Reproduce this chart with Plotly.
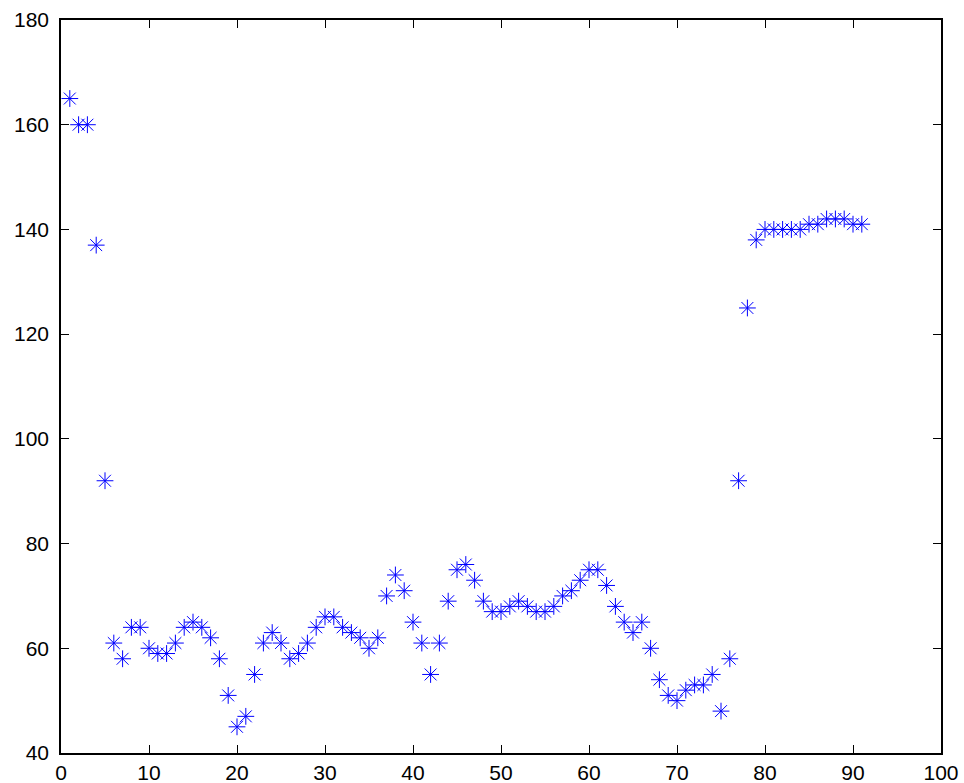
import plotly.graph_objects as go

x_values = list(range(1, 92))
y_values = [165, 160, 160, 137, 92, 61, 58, 64, 64, 60,
            59, 59, 61, 64, 65, 64, 62, 58, 51, 45,
            47, 55, 61, 63, 61, 58, 59, 61, 64, 66,
            66, 64, 63, 62, 60, 62, 70, 74, 71, 65,
            61, 55, 61, 69, 75, 76, 73, 69, 67, 67,
            68, 69, 68, 67, 67, 68, 70, 71, 73, 75,
            75, 72, 68, 65, 63, 65, 60, 54, 51, 50,
            52, 53, 53, 55, 48, 58, 92, 125, 138, 140,
            140, 140, 140, 140, 141, 141, 142, 142, 142, 141,
            141]
x_ticks = list(range(0, 101, 10))
y_ticks = list(range(40, 181, 20))

fig = go.Figure()
fig.add_trace(go.Scatter(
    x=x_values, y=y_values, mode="markers",
    marker=dict(symbol="asterisk-open", size=14, color="#0000ff",
                line=dict(color="#0000ff", width=1)),
    showlegend=False, cliponaxis=False,
))

axis_common = dict(
    showgrid=False, zeroline=False, showline=True, linecolor="black",
    linewidth=1.5, mirror="allticks", ticks="inside", ticklen=8,
    tickcolor="black", tickwidth=1, automargin=False,
    tickfont=dict(family="Liberation Sans, Arial, sans-serif", size=21, color="black"),
)
fig.update_xaxes(range=[0, 100], tickvals=x_ticks, ticklabelstandoff=0, **axis_common)
fig.update_yaxes(range=[40, 180], tickvals=y_ticks, ticklabelstandoff=6, **axis_common)

fig.update_layout(
    width=964, height=783,
    margin=dict(l=61, r=23, t=20, b=30),
    paper_bgcolor="white", plot_bgcolor="white",
)
fig.write_html("out.html", config={"displayModeBar": False},
               post_script="document.body.style.margin='0';document.body.style.overflow='hidden';")
